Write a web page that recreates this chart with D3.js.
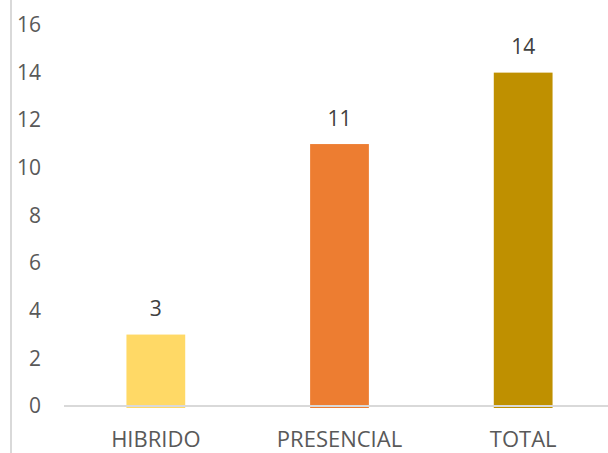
<!DOCTYPE html>
<html><head><meta charset="utf-8">
<script src="https://cdn.jsdelivr.net/npm/d3@7"></script>
<style>body{margin:0;background:#fff}svg{display:block}text{font-family:"Open Sans",sans-serif;fill:#595959}</style>
</head><body>
<svg id="c" width="608" height="453"></svg>
<script>
const categories = ["HIBRIDO", "PRESENCIAL", "TOTAL"];
const values = [3, 11, 14];
const colors = ["#FFD966", "#ED7D31", "#BF9000"];
const yTicks = [0, 2, 4, 6, 8, 10, 12, 14, 16];

const svg = d3.select("#c");
const x = d3.scaleBand().domain(categories).range([64, 615]).paddingInner(0.68).paddingOuter(0.34);
const y = d3.scaleLinear().domain([0, 16]).range([406, 25]);

// left border line
svg.append("line").attr("x1", 11).attr("x2", 11).attr("y1", 0).attr("y2", 453)
  .attr("stroke", "#d9d9d9").attr("stroke-width", 2);

// y axis labels
const yAxis = d3.axisLeft(y).tickValues(yTicks).tickSize(0).tickPadding(0);
const ga = svg.append("g").attr("transform", "translate(41,0)").call(yAxis);
ga.select(".domain").remove();
ga.selectAll("text").attr("font-size", 21).attr("fill", "#595959").attr("font-family", "Open Sans");

// bars
svg.selectAll("rect.bar").data(values).join("rect").attr("class", "bar")
  .attr("x", (d, i) => x(categories[i]))
  .attr("width", x.bandwidth())
  .attr("y", d => y(d))
  .attr("height", d => y(0) - y(d) + 2)
  .attr("fill", (d, i) => colors[i]);

// baseline
svg.append("line").attr("x1", 64).attr("x2", 608).attr("y1", y(0)).attr("y2", y(0))
  .attr("stroke", "#d9d9d9").attr("stroke-width", 2);

// value labels
svg.selectAll("text.val").data(values).join("text").attr("class", "val")
  .attr("x", (d, i) => x(categories[i]) + x.bandwidth() / 2)
  .attr("y", d => y(d) - 18.5)
  .attr("text-anchor", "middle").attr("font-size", 21)
  .style("fill", "#404040")
  .text(d => d);

// category labels
const xAxis = d3.axisBottom(x).tickSize(0).tickPadding(0);
const gx = svg.append("g").attr("transform", `translate(0,${y(0)})`).call(xAxis);
gx.select(".domain").remove();
gx.selectAll("text").attr("font-size", 22).attr("fill", "#595959").attr("font-family", "Open Sans")
  .attr("dy", null).attr("y", 41);
</script>
</body></html>
